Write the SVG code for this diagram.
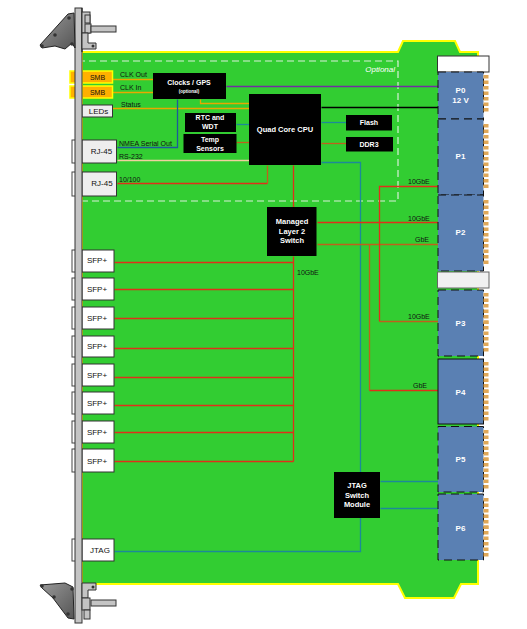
<svg xmlns="http://www.w3.org/2000/svg" width="527" height="629" viewBox="0 0 527 629">
<style>
text{font-family:"Liberation Sans",Arial,sans-serif}
.w{fill:#fff;font-weight:700;text-anchor:middle;font-size:7.500px}
.k{fill:#111;font-size:8px;text-anchor:middle}
.l{fill:#111;font-size:7px}
.blk{fill:#000}
.wb{fill:#fff;stroke:#333;stroke-width:1}
.wg{fill:#eee;stroke:#333;stroke-width:1}
.tab{fill:#fff;stroke:#444;stroke-width:1}
.smb{fill:#ffb000;stroke:#ff0;stroke-width:1.500}
.p{fill:#5a80b3;stroke:#111;stroke-width:1;stroke-dasharray:8 5}
.c{fill:none;stroke-width:1.300}
.r{stroke:#e0301a}.o{stroke:#c0601c}.b{stroke:#1c8a98}.n{stroke:#1c5a9c}.y{stroke:#e8a800}.pu{stroke:#7030a0}
.pin{fill:#e0a858}
.g{fill:#808080;stroke:#222;stroke-width:1}
.s{fill:#c4c4c4;stroke:#333;stroke-width:1}
.h{fill:#333}
</style>
<defs>
<rect id="pin" class="pin" x="0" y="0" width="5" height="3.500"/>
<g id="p6"><use href="#pin"/><use href="#pin" y="5.500"/><use href="#pin" y="11"/><use href="#pin" y="16.500"/><use href="#pin" y="22"/><use href="#pin" y="27.500"/></g>
<g id="p11"><use href="#p6"/><use href="#p6" y="27.500"/></g>
<g id="p12"><use href="#p6"/><use href="#p6" y="33"/></g>
<linearGradient id="gr" x1="0" y1="0" x2="1" y2="1"><stop offset="0" stop-color="#999"/><stop offset="1" stop-color="#555"/></linearGradient>
</defs>
<g id="board"><path d="M82 52H398L403 41H455L460 52H478V584H461L454 598H405L398 584H82Z" fill="#32cd32" stroke="#ff0" stroke-width="2"/></g>
<g id="optional-zone"><rect x="78" y="61" width="320" height="140" fill="none" stroke="#d8f0d8" stroke-width="1.200" stroke-dasharray="7 4"/><text x="395" y="72" text-anchor="end" font-size="8" font-style="italic" fill="#fff">Optional</text></g>
<g id="connectors" transform="translate(0.500 0.500)">
<path class="c y" d="M112 79H153M112 92H153M112 108H249M200 99V103H249"/>
<path class="c n" d="M177 99V147H117"/><path class="c" stroke="#f0d0a0" d="M117 160H249"/>
<path class="c r" d="M117 183H267"/><path class="c o" d="M267 183V165"/>
<path class="c pu" d="M226 86H438"/><path class="c" stroke="#000" d="M321 107H438"/>
<path class="c b" d="M236 124H249"/><path class="c o" d="M236 142H249"/>
<path class="c b" d="M321 122H346"/><path class="c o" d="M321 143H346"/>
<path class="c b" d="M321 162H360V551H114"/>
<path class="c r" d="M293 165V207M293 256V461"/>
<path class="c r" d="M114 262H293M114 289H293M114 318H293M114 348H293M114 377H293M114 405H293M114 432H293M114 461H293"/>
<path class="c r" d="M317 222H438"/><path class="c o" d="M317 244H438"/>
<path class="c r" d="M438 186H379V321"/><path class="c o" d="M379 321H438"/>
<path class="c o" d="M369 244V390"/><path class="c r" d="M369 390H438"/>
<path class="c b" d="M380 481H438M380 508H438"/>
</g>
<g id="P0-top"><rect class="wb" x="437.500" y="56" width="51.500" height="16" stroke-width="1.500" fill="#f4f4f4"/></g>
<g id="P0"><rect class="p" x="438" y="72" width="45.500" height="47"/><text class="w" x="460.500" y="93" style="font-size:8px">P0</text><text class="w" x="460.500" y="103" style="font-size:8px">12 V</text></g>
<g id="P1"><rect class="p" x="438" y="119" width="45.500" height="76"/><text class="w" x="460.500" y="159" style="font-size:8px">P1</text></g>
<g id="P2"><rect class="p" x="438" y="195" width="45.500" height="76"/><text class="w" x="460.500" y="235" style="font-size:8px">P2</text></g>
<g id="P2-gap"><rect class="wb" x="437.500" y="272" width="51.500" height="16" style="fill:#f0f0f0;stroke:#666"/></g>
<g id="P3"><rect class="p" x="438" y="290" width="45.500" height="66"/><text class="w" x="460.500" y="326" style="font-size:8px">P3</text></g>
<g id="P4"><rect class="p" x="438" y="359" width="45.500" height="65" style="stroke-dasharray:none"/><text class="w" x="460.500" y="395" style="font-size:8px">P4</text></g>
<g id="P5"><rect class="p" x="438" y="426.500" width="45.500" height="65.500"/><text class="w" x="460.500" y="462" style="font-size:8px">P5</text></g>
<g id="P6"><rect class="p" x="438" y="494" width="45.500" height="66"/><text class="w" x="460.500" y="531" style="font-size:8px">P6</text></g>
<g id="pinstrips"><use href="#p6" x="483.500" y="75"/><use href="#pin" x="483.500" y="108"/><use href="#p12" x="483.500" y="124"/><use href="#p12" x="483.500" y="200"/><use href="#p11" x="483.500" y="293"/><use href="#p11" x="483.500" y="362"/><use href="#p11" x="483.500" y="430"/><use href="#p11" x="483.500" y="498"/></g>
<g id="smb1"><rect class="smb" x="70" y="71" width="12" height="12"/><rect class="smb" x="82" y="71" width="30.500" height="12"/><text class="k" x="97.500" y="79.500" style="font-size:7px">SMB</text></g>
<g id="smb2"><rect class="smb" x="70" y="86" width="12" height="12"/><rect class="smb" x="82" y="86" width="30.500" height="12"/><text class="k" x="97.500" y="94.500" style="font-size:7px">SMB</text></g>
<g id="leds"><rect class="wg" x="82" y="105" width="30.500" height="12"/><text class="k" x="98.500" y="113.500">LEDs</text></g>
<g id="rj1"><rect class="tab" x="72" y="140" width="10" height="23"/><rect class="wg" x="82" y="140" width="34.500" height="23"/><text class="k" x="101.500" y="154">RJ-45</text></g>
<g id="rj2"><rect class="tab" x="72" y="172" width="10" height="24"/><rect class="wg" x="82" y="172" width="34.500" height="24"/><text class="k" x="102" y="186">RJ-45</text></g>
<g id="sfp1"><rect class="tab" x="72" y="250" width="10" height="22"/><rect class="wb" x="82" y="250" width="32" height="22"/><text class="k" x="97" y="263">SFP+</text></g>
<g id="sfp2"><rect class="tab" x="72" y="278" width="10" height="22"/><rect class="wb" x="82" y="278" width="32" height="22"/><text class="k" x="97" y="292">SFP+</text></g>
<g id="sfp3"><rect class="tab" x="72" y="307" width="10" height="22"/><rect class="wb" x="82" y="307" width="32" height="22"/><text class="k" x="97" y="321">SFP+</text></g>
<g id="sfp4"><rect class="tab" x="72" y="336" width="10" height="21"/><rect class="wb" x="82" y="336" width="32" height="21"/><text class="k" x="97" y="349">SFP+</text></g>
<g id="sfp5"><rect class="tab" x="72" y="364" width="10" height="22"/><rect class="wb" x="82" y="364" width="32" height="22"/><text class="k" x="97" y="378">SFP+</text></g>
<g id="sfp6"><rect class="tab" x="72" y="392" width="10" height="22"/><rect class="wb" x="82" y="392" width="32" height="22"/><text class="k" x="97" y="406">SFP+</text></g>
<g id="sfp7"><rect class="tab" x="72" y="421" width="10" height="22"/><rect class="wb" x="82" y="421" width="32" height="22"/><text class="k" x="97" y="435">SFP+</text></g>
<g id="sfp8"><rect class="tab" x="72" y="449" width="10" height="23"/><rect class="wb" x="82" y="449" width="32" height="23"/><text class="k" x="97" y="464">SFP+</text></g>
<g id="jtag"><rect class="tab" x="72" y="539" width="10" height="22"/><rect class="wb" x="82" y="539" width="32" height="22"/><text class="k" x="100" y="553">JTAG</text></g>
<g id="clocks"><rect class="blk" x="153" y="73" width="73" height="26"/><text class="w" x="189" y="85" style="font-size:7px">Clocks / GPS</text><text class="w" x="189" y="92.500" style="font-size:4.500px">(optional)</text></g>
<g id="rtc"><rect class="blk" x="185" y="113" width="51" height="19"/><text class="w" x="210" y="119.500" style="font-size:7px">RTC and</text><text class="w" x="210" y="128.500" style="font-size:7px">WDT</text></g>
<g id="temp"><rect class="blk" x="183.500" y="134" width="53" height="19"/><text class="w" x="210" y="141.500" style="font-size:7px">Temp</text><text class="w" x="210" y="150.500" style="font-size:7px">Sensors</text></g>
<g id="cpu"><rect class="blk" x="249" y="94" width="72" height="71"/><text class="w" x="285" y="132">Quad Core CPU</text></g>
<g id="flash"><rect class="blk" x="346" y="115" width="46" height="15.500"/><text class="w" x="369" y="125" style="font-size:7px">Flash</text></g>
<g id="ddr3"><rect class="blk" x="346" y="137" width="47" height="14.500"/><text class="w" x="369" y="146.500" style="font-size:7px">DDR3</text></g>
<g id="switch"><rect class="blk" x="267" y="207" width="49.500" height="49"/><text class="w" x="292" y="224">Managed</text><text class="w" x="292" y="234">Layer 2</text><text class="w" x="292" y="243">Switch</text></g>
<g id="jtag-switch"><rect class="blk" x="334" y="472" width="46" height="46"/><text class="w" x="357" y="488">JTAG</text><text class="w" x="357" y="498">Switch</text><text class="w" x="357" y="507">Module</text></g>
<g id="labels">
<text class="l" x="120" y="77">CLK Out</text><text class="l" x="120" y="90">CLK In</text><text class="l" x="121" y="107">Status</text>
<text class="l" x="119" y="146">NMEA Serial Out</text><text class="l" x="119" y="159">RS-232</text><text class="l" x="119" y="182">10/100</text>
<text class="l" x="408" y="184">10GbE</text><text class="l" x="408" y="221">10GbE</text><text class="l" x="415" y="242">GbE</text>
<text class="l" x="297" y="275">10GbE</text><text class="l" x="408" y="319">10GbE</text><text class="l" x="413" y="388">GbE</text>
</g>
<g id="panel">
<rect class="s" x="75" y="8" width="7" height="615"/>
<path d="M82 8V52" stroke="#111" stroke-width="1" fill="none"/>
<path class="g" style="fill:url(#gr)" d="M74 13L68 14L40 45L42 48L55 46L65 49L72 43L75 48Z"/>
<circle class="h" cx="69" cy="18" r="1.800"/><circle class="h" cx="55" cy="35" r="1.800"/><circle class="h" cx="42" cy="46" r="1.800"/><circle class="h" cx="72" cy="44" r="1.800"/>
<rect class="s" x="82" y="12" width="8" height="21"/><rect class="s" x="85" y="15" width="5" height="8"/><rect class="s" x="85" y="24" width="6" height="9"/><rect class="s" x="91" y="26" width="25" height="6"/>
<path class="s" d="M82 33H88V43H96V49H82Z"/><circle class="h" cx="93" cy="46" r="1.500"/>
<path class="g" style="fill:url(#gr)" d="M73 587L65 583L40 585L42 588L53 598L68 618L74 619Z"/>
<circle class="h" cx="68" cy="614" r="1.800"/><circle class="h" cx="54" cy="597" r="1.800"/><circle class="h" cx="42" cy="586" r="1.800"/><circle class="h" cx="72" cy="589" r="1.800"/>
<path class="s" d="M82 583H96V590H88V598H82Z"/><circle class="h" cx="93" cy="587" r="1.500"/><rect class="s" x="91" y="600" width="25" height="6"/><rect class="s" x="82" y="598" width="8" height="12"/><rect class="s" x="84" y="610" width="6" height="9"/>
</g>
</svg>
